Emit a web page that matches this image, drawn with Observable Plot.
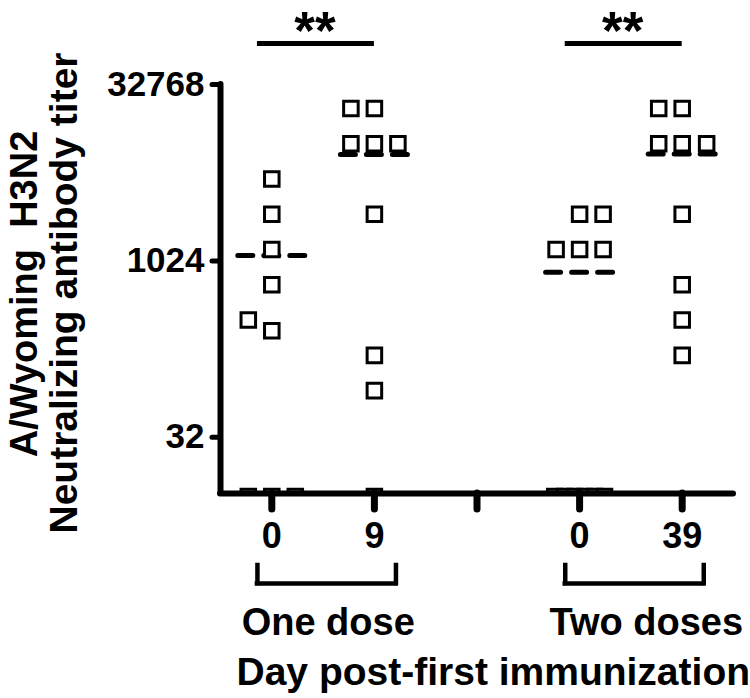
<!DOCTYPE html>
<html>
<head>
<meta charset="utf-8">
<script src="https://cdn.jsdelivr.net/npm/d3@7"></script>
<script src="https://cdn.jsdelivr.net/npm/@observablehq/plot@0.6"></script>
<style>
  html, body { margin: 0; padding: 0; background: #fff; }
  #chart svg { display: block; }
</style>
</head>
<body>
<div id="chart"></div>
<script>
// ---- data ----
const xTickLabels = ["0", "9", "", "0", "39"];          // tick labels at positions 0..4
const doseLabels = ["One dose", "Two doses"];
const yTicks = [32, 1024, 32768];
const yTitle = ["A/Wyoming\u00A0\u00A0H3N2", "Neutralizing antibody titer"];
const xTitle = "Day post-first immunization";

// titers per group (group index on the x position) and their scatter column
const oneDoseDay0     = [5120, 2560, 1280, 640, 320, 260, 10, 10, 10];
const oneDoseDay0Col  = [0, 0, 0, 0, -1, 0, -1, 0, 1];
const oneDoseDay9     = [20480, 20480, 10240, 10240, 10240, 2560, 160, 80, 10];
const oneDoseDay9Col  = [-1, 0, -1, 0, 1, 0, 0, 0, 0];
const twoDoseDay0     = [2560, 2560, 1280, 1280, 1280, 10, 10, 10, 10, 10, 10];
const twoDoseDay0Col  = [0, 1, -1, 0, 1, -1.06, -0.64, -0.21, 0.21, 0.64, 1.06];
const twoDoseDay39    = [20480, 20480, 10240, 10240, 10240, 2560, 640, 320, 160];
const twoDoseDay39Col = [-1, 0, -1, 0, 1.04, 0, 0, 0, 0];
const groupMeans      = [1140, 8280, 820, 8370];
const groupPositions  = [0, 1, 3, 4];
const sigPairs        = [[0, 1], [3, 4]];
const sigLabels       = ["**", "**"];

// ---- build tables ----
const series = [
  [oneDoseDay0, oneDoseDay0Col],
  [oneDoseDay9, oneDoseDay9Col],
  [twoDoseDay0, twoDoseDay0Col],
  [twoDoseDay39, twoDoseDay39Col]
];
const colStep = 0.229;
const points = series.flatMap(([vals, cols], g) =>
  vals.map((v, i) => ({pos: groupPositions[g] + cols[i] * colStep, titer: v})));
const means = groupMeans.map((m, g) => ({pos: groupPositions[g], titer: m}));
const yDomain = [10.6, 32768];

const font = "'Liberation Sans', Arial, Helvetica, sans-serif";

const chart = Plot.plot({
  width: 750,
  height: 698,
  marginTop: 84,
  marginBottom: 205,
  marginLeft: 220,
  marginRight: 17,
  style: {fontFamily: font, fontWeight: "bold", color: "#000", background: "#fff", overflow: "visible"},
  x: {type: "linear", domain: [-0.5, 4.5], axis: null, label: null},
  y: {type: "log", base: 2, domain: yDomain, axis: null, label: null},
  marks: [
    // mean lines (dashed, beneath the squares)
    Plot.ruleY(means, {
      y: "titer", x1: d => d.pos - 0.3265, x2: d => d.pos + 0.3265,
      stroke: "#000", strokeWidth: 5, strokeLinecap: "round", strokeDasharray: "15,11"
    }),
    // data squares
    Plot.dot(points, {
      x: "pos", y: "titer", symbol: "square", r: 8.2,
      fill: "#fff", stroke: "#000", strokeWidth: 3, clip: true
    }),
    // axis lines
    Plot.ruleX([-0.5], {stroke: "#000", strokeWidth: 6, strokeLinecap: "round"}),
    Plot.ruleY([yDomain[0]], {stroke: "#000", strokeWidth: 6, strokeLinecap: "round"}),
    // y axis
    Plot.axisY({
      ticks: yTicks, tickFormat: d => String(d), tickSize: 8, tickPadding: 8, label: null,
      strokeWidth: 5, strokeLinecap: "round", fontSize: 35, fontWeight: "bold"
    }),
    // x axis
    Plot.axisX({
      ticks: [0, 1, 2, 3, 4], tickFormat: d => xTickLabels[d], tickSize: 16, tickPadding: 13, label: null,
      strokeWidth: 7, strokeLinecap: "round", fontSize: 36, fontWeight: "bold"
    }),
    // significance bars
    Plot.ruleY(sigPairs, {
      y: () => yDomain[1], x1: d => d[0] - 0.14, x2: d => d[1] + 0.0, dy: -41,
      stroke: "#000", strokeWidth: 5
    }),
    Plot.text(sigPairs, {
      x: d => (d[0] + d[1]) / 2 - 0.08, y: () => yDomain[1], text: (d, i) => sigLabels[i],
      lineAnchor: "bottom", dy: -36, fontSize: 53, fontWeight: "bold"
    }),
    // dose brackets
    Plot.ruleY(sigPairs, {
      y: () => yDomain[0], x1: d => d[0] - 0.14, x2: d => d[1] + 0.21, dy: 90,
      stroke: "#000", strokeWidth: 4.5, strokeLinecap: "square"
    }),
    Plot.ruleX(sigPairs.flatMap(d => [d[0] - 0.14, d[1] + 0.21]), {
      insetTop: 481, insetBottom: -90, stroke: "#000", strokeWidth: 4.5, strokeLinecap: "square"
    }),
    Plot.text(sigPairs, {
      x: (d, i) => (d[0] + d[1]) / 2 + (i === 0 ? 0.05 : 0.15), frameAnchor: "bottom",
      text: (d, i) => doseLabels[i], lineAnchor: "bottom", dy: 141, fontSize: 38, fontWeight: "bold"
    }),
    // x title
    Plot.text([xTitle], {
      frameAnchor: "bottom-left", text: d => d, textAnchor: "start", lineAnchor: "bottom",
      dx: 16, dy: 191, fontSize: 39, fontWeight: "bold"
    }),
    // y title (two rotated lines)
    Plot.text([yTitle[0]], {
      frameAnchor: "left", text: d => d, rotate: -90, textAnchor: "middle", lineAnchor: "bottom",
      dx: -184, dy: 5, fontSize: 38, fontWeight: "bold"
    }),
    Plot.text([yTitle[1]], {
      frameAnchor: "left", text: d => d, rotate: -90, textAnchor: "middle", lineAnchor: "bottom",
      dx: -144, dy: 4, fontSize: 39, fontWeight: "bold"
    })
  ]
});
document.getElementById("chart").appendChild(chart);
</script>
</body>
</html>
